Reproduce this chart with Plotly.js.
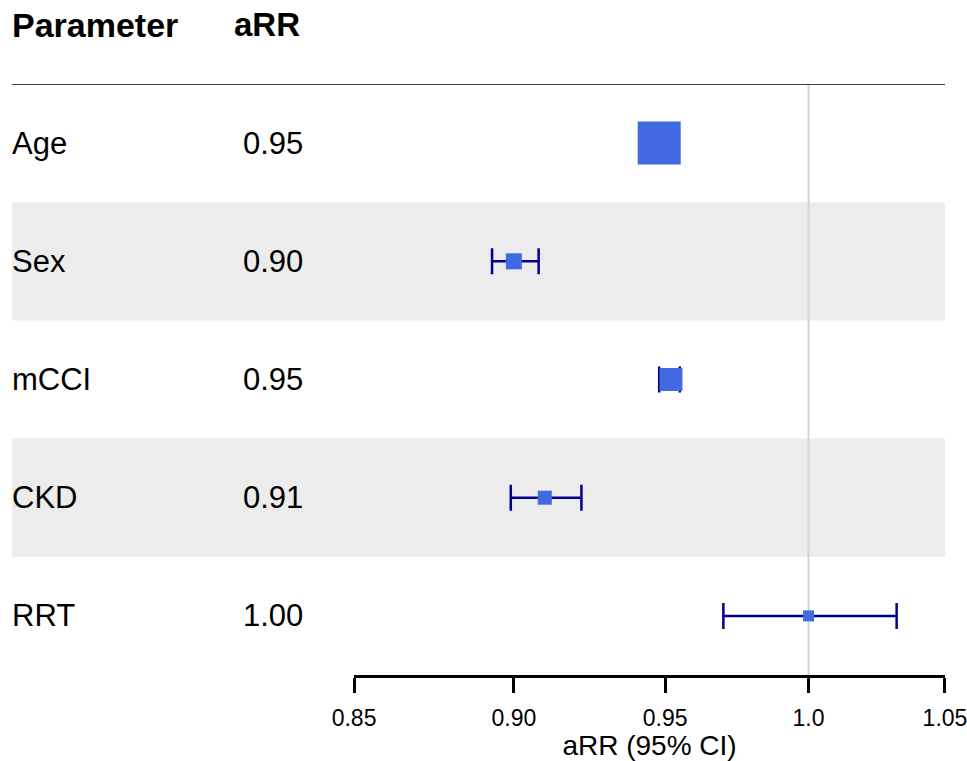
<!DOCTYPE html>
<html>
<head>
<meta charset="utf-8">
<script src="https://cdn.plot.ly/plotly-3.0.1.min.js"></script>
<style>html,body{margin:0;padding:0;background:#fff;}#chart{width:967px;height:761px;}</style>
</head>
<body>
<div id="chart"></div>
<script>
// Data
const parameters = ["Age", "Sex", "mCCI", "CKD", "RRT"];
const aRR = [0.948, 0.900, 0.952, 0.910, 1.000];
const ciLow = [0.945, 0.893, 0.948, 0.899, 0.970];
const ciHigh = [0.951, 0.908, 0.955, 0.922, 1.032];
const aRRLabels = ["0.95", "0.90", "0.95", "0.91", "1.00"];
const weights = [43, 16, 23, 14, 11];
const tickVals = [0.85, 0.90, 0.95, 1.0, 1.05];
const tickText = ["0.85", "0.90", "0.95", "1.0", "1.05"];

const FONT = "Liberation Sans, Arial, sans-serif";
const rowIdx = parameters.map((_, i) => i);

const ciTrace = {
  type: "scatter",
  mode: "markers",
  x: aRR,
  y: rowIdx,
  marker: { size: 1, opacity: 0, color: "#4169E1" },
  error_x: {
    type: "data",
    symmetric: false,
    array: ciHigh.map((h, i) => h - aRR[i]),
    arrayminus: ciLow.map((l, i) => aRR[i] - l),
    color: "#00008B",
    thickness: 2.5,
    width: 13
  },
  hoverinfo: "skip",
  showlegend: false
};
const ptTrace = {
  type: "scatter",
  mode: "markers",
  x: aRR,
  y: rowIdx,
  marker: { symbol: "square", size: weights, color: "#4169E1", opacity: 1, line: { width: 0 } },
  hoverinfo: "x+y",
  showlegend: false
};

const shapes = [];
rowIdx.forEach(i => {
  if (i % 2 === 1) {
    shapes.push({ type: "rect", xref: "paper", yref: "y", x0: 0, x1: 1, y0: i - 0.5, y1: i + 0.5,
      fillcolor: "#ececec", line: { width: 0 }, layer: "below" });
  }
});
shapes.push({ type: "line", xref: "x", yref: "y", x0: 1, x1: 1, y0: -0.5, y1: 4.5,
  line: { color: "#d3d3d3", width: 2 }, layer: "below" });
shapes.push({ type: "line", xref: "paper", yref: "y", x0: 0, x1: 1, y0: -0.5, y1: -0.5,
  line: { color: "#000", width: 1.5 } });

const annotations = [];
annotations.push({ xref: "paper", yref: "paper", x: 0, y: 1.1, xanchor: "left", yanchor: "middle", xshift: -2,
  text: "<b>Parameter</b>", showarrow: false, font: { family: FONT, size: 34, color: "#000" } });
annotations.push({ xref: "paper", yref: "paper", x: 0.312, y: 1.1, xanchor: "right", yanchor: "middle", xshift: -1,
  text: "<b>aRR</b>", showarrow: false, font: { family: FONT, size: 33, color: "#000" } });
parameters.forEach((p, i) => {
  annotations.push({ xref: "paper", yref: "y", x: 0, y: i, xanchor: "left", yanchor: "middle", xshift: -2,
    text: p, showarrow: false, font: { family: FONT, size: 31, color: "#000" } });
  annotations.push({ xref: "paper", yref: "y", x: 0.312, y: i, xanchor: "right", yanchor: "middle", xshift: 2,
    text: aRRLabels[i], showarrow: false, font: { family: FONT, size: 31, color: "#000" } });
});

const layout = {
  width: 967, height: 761,
  margin: { l: 12, r: 22, t: 84, b: 86 },
  paper_bgcolor: "#fff", plot_bgcolor: "rgba(0,0,0,0)",
  font: { family: FONT, color: "#000" },
  xaxis: {
    type: "log",
    domain: [0.3666, 1],
    range: [Math.log10(0.85), Math.log10(1.05)],
    tickvals: tickVals, ticktext: tickText,
    showgrid: false, zeroline: false,
    showline: true, linecolor: "#000", linewidth: 3,
    ticks: "outside", ticklen: 15, tickwidth: 3, tickcolor: "#000",
    ticklabeloverflow: "allow",
    ticklabelstandoff: 5,
    tickfont: { family: FONT, size: 23, color: "#000" },
    title: { text: "aRR (95% CI)", font: { family: FONT, size: 28, color: "#000" }, standoff: 6 },
    fixedrange: true
  },
  yaxis: {
    range: [4.5, -0.5],
    showgrid: false, zeroline: false, showline: false, showticklabels: false, ticks: "",
    fixedrange: true
  },
  shapes: shapes,
  annotations: annotations
};

Plotly.newPlot("chart", [ciTrace, ptTrace], layout, { displayModeBar: false, staticPlot: true });
</script>
</body>
</html>
